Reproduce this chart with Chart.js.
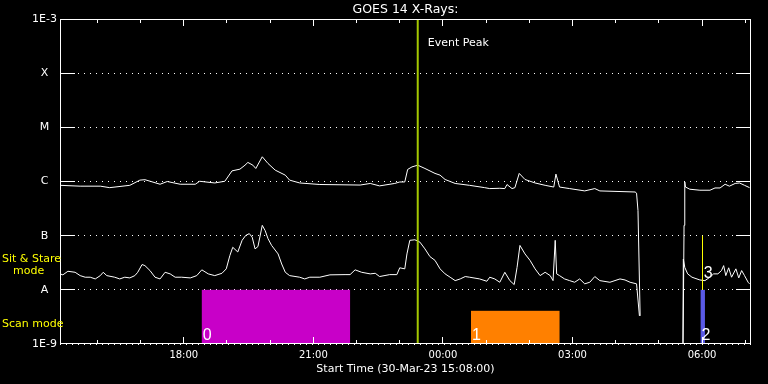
<!DOCTYPE html>
<html>
<head>
<meta charset="utf-8">
<script src="https://cdn.jsdelivr.net/npm/chart.js@4"></script>
<style>
html, body { margin: 0; padding: 0; background: #000; overflow: hidden; }
#wrap { width: 768px; height: 384px; }
</style>
</head>
<body>
<div id="wrap"><canvas id="goes"></canvas></div>
<script>
const startTime = "30-Mar-23 15:08:00";

// times are minutes after the start time
const longTimes = [0, 28, 56, 69, 97, 111, 118, 139, 149, 167, 188, 194, 215, 229, 239, 250, 257, 261, 268, 272,
    281, 289, 299, 313, 319, 333, 361, 389, 417, 431, 444, 465, 472, 479, 483, 489, 497, 507, 521, 528,
    535, 549, 569, 590, 597, 611, 618, 621, 628, 632, 638, 646, 660, 674, 686, 689, 694, 708, 729, 743,
    750, 799, 801, 803, 806, 835, 865, 867, 868, 869, 875, 889, 903, 910, 917, 924, 930, 938, 944, 951, 958];
const longFlux = [8.5e-7, 8.2e-7, 8.2e-7, 7.7e-7, 8.5e-7, 1.06e-6, 1.08e-6, 8.9e-7, 1.0e-6, 8.9e-7,
    8.9e-7, 1.01e-6, 9.4e-7, 1.01e-6, 1.57e-6, 1.69e-6, 2.0e-6, 2.25e-6, 2.0e-6, 1.74e-6,
    2.86e-6, 2.15e-6, 1.62e-6, 1.31e-6, 1.06e-6, 9.4e-7, 8.8e-7, 8.7e-7, 8.6e-7, 9.2e-7,
    8.3e-7, 9.2e-7, 9.8e-7, 9.8e-7, 1.67e-6, 1.86e-6, 2.0e-6, 1.74e-6, 1.41e-6, 1.31e-6,
    1.09e-6, 9.2e-7, 8.5e-7, 7.7e-7, 7.4e-7, 7.5e-7, 7.4e-7, 8.8e-7, 7.4e-7, 7.7e-7,
    1.41e-6, 1.09e-6, 9.4e-7, 8.5e-7, 7.9e-7, 1.37e-6, 7.9e-7, 7.4e-7, 6.7e-7, 7.4e-7,
    6.7e-7, 6.4e-7, 6.1e-7, 2.9e-7, 3.3e-9, null, 1e-10, 1.55e-7, 9.8e-7, 7.9e-7,
    7.2e-7, 6.9e-7, 6.9e-7, 7.6e-7, 7.6e-7, 8.9e-7, 8.2e-7, 9.2e-7, 9.4e-7, 8.5e-7, 7.7e-7];

const shortTimes = [0, 4, 11, 21, 28, 35, 42, 49, 56, 60, 65, 76, 83, 90, 97, 104, 108, 114, 118, 125,
    132, 139, 146, 153, 160, 169, 181, 190, 197, 206, 215, 225, 231, 236, 240, 247, 253, 258, 263, 267,
    271, 275, 281, 285, 289, 294, 303, 308, 313, 319, 333, 340, 347, 361, 375, 396, 403, 410, 419, 431,
    438, 444, 458, 468, 472, 479, 482, 486, 493, 500, 507, 514, 521, 528, 535, 542, 549, 556, 563, 569,
    583, 593, 597, 604, 611, 618, 625, 631, 635, 639, 646, 653, 660, 667, 674, 681, 685, 688, 690, 694,
    701, 708, 715, 722, 729, 736, 743, 750, 764, 778, 785, 792, 801, 805, 835, 865, 866, 868, 872, 878,
    889, 896, 903, 908, 914, 919, 922, 925, 929, 933, 939, 943, 947, 951, 956, 958];
const shortFlux = [1.97e-8, 1.89e-8, 2.20e-8, 2.11e-8, 1.83e-8, 1.71e-8, 1.71e-8, 1.59e-8, 1.83e-8, 2.11e-8,
    1.83e-8, 1.71e-8, 1.59e-8, 1.71e-8, 1.66e-8, 1.83e-8, 2.11e-8, 2.93e-8, 2.8e-8, 2.27e-8,
    1.71e-8, 1.59e-8, 2.11e-8, 1.97e-8, 1.71e-8, 1.71e-8, 1.66e-8, 1.83e-8, 2.34e-8, 1.97e-8,
    1.83e-8, 2.02e-8, 2.44e-8, 4.3e-8, 6.1e-8, 5.0e-8, 8.2e-8, 1.01e-7, 1.09e-7, 9.4e-8,
    5.7e-8, 6.3e-8, 1.55e-7, 1.24e-7, 8.8e-8, 6.6e-8, 4.6e-8, 3.0e-8, 2.11e-8, 1.83e-8,
    1.71e-8, 1.59e-8, 1.71e-8, 1.71e-8, 1.89e-8, 1.91e-8, 1.91e-8, 2.34e-8, 2.11e-8, 1.97e-8,
    2.02e-8, 1.76e-8, 1.91e-8, 1.91e-8, 2.55e-8, 2.44e-8, 4.6e-8, 8.2e-8, 8.4e-8, 7.6e-8,
    5.7e-8, 4.1e-8, 3.5e-8, 2.44e-8, 1.97e-8, 1.71e-8, 1.48e-8, 1.59e-8, 1.76e-8, 1.71e-8,
    1.59e-8, 1.44e-8, 1.71e-8, 1.59e-8, 1.38e-8, 2.11e-8, 1.48e-8, 1.25e-8, 2.6e-8, 6.6e-8,
    4.6e-8, 3.5e-8, 2.44e-8, 1.83e-8, 2.11e-8, 1.83e-8, 1.48e-8, 8.2e-8, 1.97e-8, 1.83e-8,
    1.59e-8, 1.48e-8, 1.38e-8, 1.59e-8, 1.29e-8, 1.38e-8, 1.76e-8, 1.48e-8, 1.38e-8, 1.59e-8,
    1.52e-8, 1.38e-8, 1.29e-8, 3.3e-9, null, 1e-10, 3.7e-8, 2.6e-8, 1.97e-8, 1.71e-8,
    1.52e-8, 1.48e-8, 1.71e-8, 1.97e-8, 1.97e-8, 2.27e-8, 2.8e-8, 1.83e-8, 2.55e-8, 1.71e-8,
    2.44e-8, 1.66e-8, 2.27e-8, 1.83e-8, 1.38e-8, 1.29e-8];

const yTickValues = [1e-9, 1e-8, 1e-7, 1e-6, 1e-5, 1e-4, 1e-3];
const yTickLabels = ["1E-9", "A", "B", "C", "M", "X", "1E-3"];

const hourTicks = ["16:00", "17:00", "18:00", "19:00", "20:00", "21:00", "22:00", "23:00", "00:00",
    "01:00", "02:00", "03:00", "04:00", "05:00", "06:00", "07:00"];

const peakTime = "23:25";

const scanLabels = ["0", "1", "2"];
const scanStart = ["18:25", "00:39", "05:58"];
const scanEnd = ["21:51", "02:42", "06:04"];
const scanTop = [1e-8, 4.1e-9, 1e-8];
const scanColors = ["#c800c8", "#ff8000", "#5a5ae6"];

const stareLabels = ["3"];
const stareTime = ["06:01"];

function toMin(s) {
    const [h, m] = s.split(":").map(Number);
    return ((h * 60 + m) - (15 * 60 + 8) + 1440) % 1440;
}
function isMajor(s) {
    return Number(s.split(":")[0]) % 3 === 0;
}
function al(p) {
    return Math.round(p - 0.5) + 0.5;
}

const decor = {
    id: "decor",
    beforeDraw(chart) {
        const { ctx, width, height } = chart;
        ctx.save();
        ctx.fillStyle = "#000";
        ctx.fillRect(0, 0, width, height);
        ctx.restore();
    },
    beforeDatasetsDraw(chart) {
        const { ctx, scales: { x, y } } = chart;
        ctx.save();
        scanStart.forEach((s, i) => {
            const x0 = x.getPixelForValue(toMin(s));
            const x1 = x.getPixelForValue(toMin(scanEnd[i]));
            const y0 = y.getPixelForValue(scanTop[i]);
            const y1 = y.getPixelForValue(1e-9);
            ctx.fillStyle = scanColors[i];
            ctx.fillRect(x0, y0, x1 - x0, y1 - y0);
        });
        ctx.restore();
    },
    afterDatasetsDraw(chart) {
        const { ctx, chartArea: a, scales: { x, y } } = chart;
        ctx.save();

        // sit & stare marker
        ctx.strokeStyle = "#ffff00";
        ctx.lineWidth = 1;
        stareTime.forEach(t => {
            const px = al(x.getPixelForValue(toMin(t)));
            ctx.beginPath();
            ctx.moveTo(px, y.getPixelForValue(1e-7));
            ctx.lineTo(px, y.getPixelForValue(1e-8));
            ctx.stroke();
        });

        // event peak
        const pk = x.getPixelForValue(toMin(peakTime));
        ctx.strokeStyle = "#a4c800";
        ctx.lineWidth = 2;
        ctx.beginPath();
        ctx.moveTo(pk, a.top);
        ctx.lineTo(pk, a.bottom);
        ctx.stroke();

        // frame and ticks
        ctx.strokeStyle = "#fff";
        ctx.lineWidth = 1;
        ctx.strokeRect(a.left + 0.5, a.top + 0.5, a.right - a.left - 1, a.bottom - a.top - 1);
        ctx.beginPath();
        yTickValues.slice(1, -1).forEach(v => {
            const py = al(y.getPixelForValue(v));
            ctx.moveTo(a.left, py); ctx.lineTo(a.left + 15, py);
            ctx.moveTo(a.right - 15, py); ctx.lineTo(a.right, py);
        });
        hourTicks.forEach(h => {
            const px = al(x.getPixelForValue(toMin(h)));
            const len = isMajor(h) ? 7 : 4;
            ctx.moveTo(px, a.top); ctx.lineTo(px, a.top + len);
            ctx.moveTo(px, a.bottom); ctx.lineTo(px, a.bottom - len);
        });
        ctx.stroke();

        // texts
        ctx.fillStyle = "#fff";
        ctx.textBaseline = "middle";
        ctx.textAlign = "center";
        ctx.font = '12.5px "DejaVu Sans"';
        ctx.fillText("GOES 14 X-Rays:", (a.left + a.right) / 2, 9.5);
        ctx.font = '11px "DejaVu Sans"';
        ctx.textAlign = "left";
        ctx.fillText("Event Peak", pk + 10, 43);

        ctx.fillStyle = "#ffff00";
        ctx.fillText("Sit & Stare", 2, 259.5);
        ctx.fillText("mode", 13, 271.5);
        ctx.fillText("Scan mode", 2, 324);

        ctx.fillStyle = "#fff";
        ctx.font = '16px "Liberation Sans"';
        ctx.textBaseline = "alphabetic";
        scanLabels.forEach((lab, i) => {
            ctx.fillText(lab, x.getPixelForValue(toMin(scanStart[i])) + 1, 339.5);
        });
        stareLabels.forEach((lab, i) => {
            ctx.fillText(lab, x.getPixelForValue(toMin(stareTime[i])) + 1, 278);
        });
        ctx.restore();
    }
};

const dataGoes = {
    datasets: [
        {
            label: "1-8 A",
            data: longTimes.map((t, i) => ({ x: t, y: longFlux[i] })),
            borderColor: "#fff",
            borderWidth: 1,
            pointRadius: 0,
            spanGaps: false,
        },
        {
            label: "0.5-4 A",
            data: shortTimes.map((t, i) => ({ x: t, y: shortFlux[i] })),
            borderColor: "#fff",
            borderWidth: 1,
            pointRadius: 0,
            spanGaps: false,
        },
    ],
};

const configGoes = {
    type: "line",
    data: dataGoes,
    options: {
        responsive: true,
        maintainAspectRatio: false,
        animation: false,
        layout: {
            padding: { top: 19, right: 17, left: 0, bottom: 0 },
        },
        plugins: {
            legend: { display: false },
            title: { display: false },
            tooltip: { enabled: false },
        },
        scales: {
            x: {
                type: "linear",
                min: 0,
                max: 960,
                afterBuildTicks: scale => {
                    scale.ticks = hourTicks.map(h => ({ value: toMin(h) }));
                },
                afterFit: scale => { scale.height = 40; },
                grid: { display: false, drawTicks: false },
                border: { display: false },
                ticks: {
                    color: "#fff",
                    autoSkip: false,
                    maxRotation: 0,
                    padding: 5,
                    font: { size: 10, family: "DejaVu Sans" },
                    callback: (v, i) => isMajor(hourTicks[i]) ? hourTicks[i] : "",
                },
                title: {
                    display: true,
                    text: "Start Time (" + startTime + ")",
                    color: "#fff",
                    font: { size: 11, family: "DejaVu Sans" },
                    padding: { top: 0, bottom: 8 },
                },
            },
            y: {
                type: "logarithmic",
                min: 1e-9,
                max: 1e-3,
                afterBuildTicks: scale => {
                    scale.ticks = yTickValues.map(v => ({ value: v }));
                },
                afterFit: scale => { scale.width = 60; },
                grid: { color: "#fff", lineWidth: 1, drawTicks: false },
                border: { display: false, dash: [1, 5] },
                ticks: {
                    color: "#fff",
                    autoSkip: false,
                    padding: 3,
                    crossAlign: "center",
                    font: { size: 11, family: "DejaVu Sans" },
                    callback: (v, i) => yTickLabels[i],
                },
            },
        },
    },
    plugins: [decor],
};

const chartGoes = new Chart(document.getElementById("goes"), configGoes);
</script>
</body>
</html>
